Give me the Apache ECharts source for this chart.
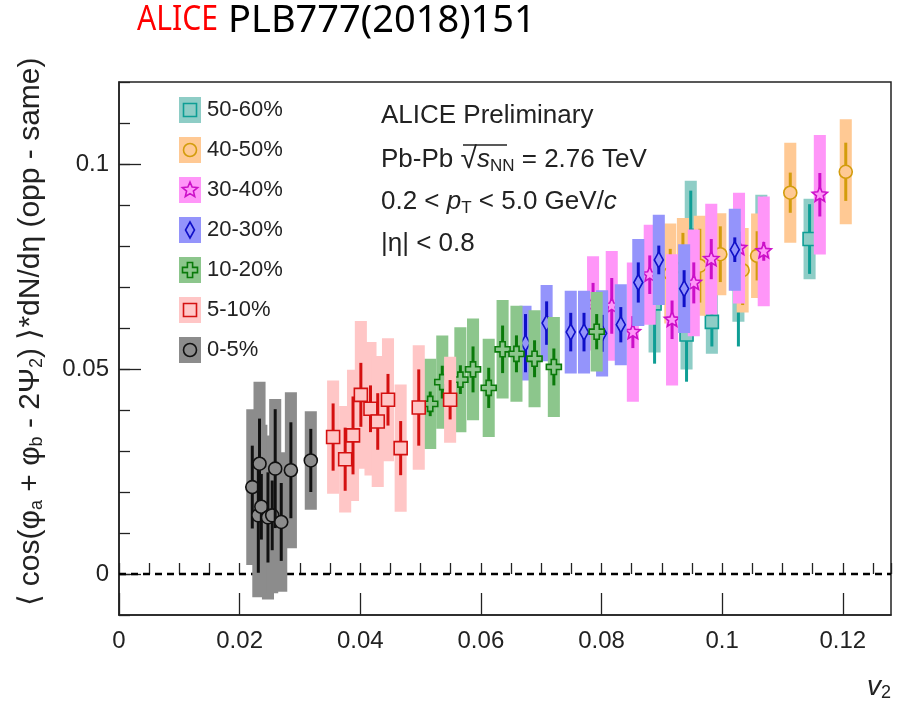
<!DOCTYPE html>
<html>
<head>
<meta charset="utf-8">
<script src="https://cdn.jsdelivr.net/npm/echarts@6/dist/echarts.min.js"></script>
<style>
html,body{margin:0;padding:0;background:#fff;}
#chart{width:905px;height:702px;}
</style>
</head>
<body>
<div id="chart"></div>
<script>
// ---- data: [v2, value, stat error, syst error] per centrality class ----
const c5060_x = [0.0888, 0.0948, 0.0941, 0.0983, 0.1027, 0.1065, 0.1145];
const c5060_y = [0.0660, 0.0825, 0.0584, 0.0615, 0.0710, 0.0800, 0.0817];
const c5060_stat = [0.0147, 0.011, 0.0115, 0.006, 0.0155, 0.012, 0.0085];
const c5060_syst = [0.012, 0.0134, 0.0085, 0.0078, 0.0095, 0.0125, 0.0098];

const c4050_x = [0.0914, 0.0935, 0.0963, 0.0997, 0.1034, 0.1058, 0.1113, 0.1205];
const c4050_y = [0.0733, 0.0747, 0.0752, 0.0780, 0.0741, 0.0776, 0.0930, 0.0981];
const c4050_stat = [0.006, 0.0085, 0.009, 0.0068, 0.0085, 0.006, 0.0049, 0.0071];
const c4050_syst = [0.0122, 0.0121, 0.0122, 0.010, 0.0103, 0.0103, 0.0122, 0.0128];

const c3040_x = [0.0786, 0.0817, 0.0852, 0.0880, 0.0917, 0.0953, 0.0982, 0.1028, 0.1069, 0.1162];
const c3040_y = [0.0660, 0.0654, 0.0590, 0.0730, 0.0620, 0.0710, 0.0768, 0.0795, 0.0787, 0.0925];
const c3040_stat = [0.005, 0.0068, 0.0039, 0.0047, 0.0047, 0.005, 0.0049, 0.004, 0.0023, 0.0053];
const c3040_syst = [0.0115, 0.0134, 0.017, 0.0122, 0.016, 0.013, 0.0135, 0.0135, 0.0134, 0.0146];

const c2030_x = [0.0674, 0.0709, 0.0749, 0.0771, 0.0801, 0.0832, 0.0861, 0.0895, 0.0937, 0.1021];
const c2030_y = [0.0563, 0.0612, 0.0590, 0.0590, 0.0587, 0.0608, 0.0711, 0.0766, 0.0696, 0.0791];
const c2030_stat = [0.0071, 0.0053, 0.0047, 0.0047, 0.0045, 0.0043, 0.0049, 0.0035, 0.0045, 0.003];
const c2030_syst = [0.0091, 0.0093, 0.0101, 0.0101, 0.0105, 0.0099, 0.0106, 0.011, 0.0108, 0.010];

const c1020_x = [0.0516, 0.0536, 0.0566, 0.0587, 0.0613, 0.0636, 0.0659, 0.0689, 0.0721, 0.0792];
const c1020_y = [0.0415, 0.0468, 0.0474, 0.0499, 0.0454, 0.0548, 0.0537, 0.0525, 0.0505, 0.0591];
const c1020_stat = [0.003, 0.004, 0.0035, 0.0056, 0.0049, 0.0058, 0.0045, 0.0045, 0.0045, 0.0043];
const c1020_syst = [0.011, 0.0114, 0.0128, 0.0124, 0.012, 0.012, 0.0117, 0.0118, 0.0122, 0.0097];

const c0510_x = [0.0355, 0.0375, 0.0388, 0.0401, 0.0417, 0.0429, 0.0446, 0.0467, 0.0497, 0.0549];
const c0510_y = [0.0334, 0.0280, 0.0338, 0.0437, 0.0403, 0.0372, 0.0425, 0.0307, 0.0406, 0.0425];
const c0510_stat = [0.0082, 0.0077, 0.0095, 0.0078, 0.0057, 0.0069, 0.0063, 0.0066, 0.0093, 0.0048];
const c0510_syst = [0.0138, 0.013, 0.016, 0.018, 0.0163, 0.016, 0.015, 0.0155, 0.0152, 0.0105];

const c0005_x = [0.0221, 0.0231, 0.0233, 0.0236, 0.0247, 0.0254, 0.0259, 0.0269, 0.0285, 0.0318];
const c0005_y = [0.0212, 0.0143, 0.0269, 0.0164, 0.0138, 0.0143, 0.0257, 0.0127, 0.0253, 0.0277];
const c0005_stat = [0.0101, 0.014, 0.011, 0.008, 0.011, 0.0085, 0.0145, 0.0095, 0.0117, 0.0077];
const c0005_syst = [0.019, 0.02, 0.02, 0.02, 0.02, 0.019, 0.017, 0.017, 0.019, 0.012];

const legendLabels = ['50-60%', '40-50%', '30-40%', '20-30%', '10-20%', '5-10%', '0-5%'];
const xTickValues = [0, 0.02, 0.04, 0.06, 0.08, 0.1, 0.12];
const yLabelValues = [0, 0.05, 0.1];

// ---- styles ----
const FONT = '"Liberation Sans", Arial, Helvetica, sans-serif';
const BOXHALF = 0.001;
const classes = [
  {name: legendLabels[0], x: c5060_x, y: c5060_y, stat: c5060_stat, syst: c5060_syst, box: '#8ecdc6', line: '#0e9e95', mk: 'square'},
  {name: legendLabels[1], x: c4050_x, y: c4050_y, stat: c4050_stat, syst: c4050_syst, box: '#ffc994', line: '#d39c0c', mk: 'circle'},
  {name: legendLabels[2], x: c3040_x, y: c3040_y, stat: c3040_stat, syst: c3040_syst, box: '#ff96f8', line: '#cc10c8', mk: 'star'},
  {name: legendLabels[3], x: c2030_x, y: c2030_y, stat: c2030_stat, syst: c2030_syst, box: '#9494fb', line: '#1010c8', mk: 'diamond'},
  {name: legendLabels[4], x: c1020_x, y: c1020_y, stat: c1020_stat, syst: c1020_syst, box: '#8cc68c', line: '#0a7a0a', mk: 'cross'},
  {name: legendLabels[5], x: c0510_x, y: c0510_y, stat: c0510_stat, syst: c0510_syst, box: '#ffc6c6', line: '#d41010', mk: 'square'},
  {name: legendLabels[6], x: c0005_x, y: c0005_y, stat: c0005_stat, syst: c0005_syst, box: '#8c8c8c', line: '#111111', mk: 'circle'}
];

function markerEl(kind, cx, cy, fill, stroke) {
  const style = {fill: fill, stroke: stroke, lineWidth: 1.6};
  if (kind === 'circle') return {type: 'circle', shape: {cx: cx, cy: cy, r: 6.5}, style: style};
  if (kind === 'square') return {type: 'rect', shape: {x: cx - 6.5, y: cy - 6.5, width: 13, height: 13}, style: style};
  if (kind === 'diamond') return {type: 'polygon', shape: {points: [[cx, cy - 8], [cx + 4.5, cy], [cx, cy + 8], [cx - 4.5, cy]]}, style: style};
  if (kind === 'star') {
    const pts = [];
    for (let i = 0; i < 10; i++) {
      const r = (i % 2 === 0) ? 8 : 3.6;
      const a = -Math.PI / 2 + i * Math.PI / 5;
      pts.push([cx + r * Math.cos(a), cy + r * Math.sin(a)]);
    }
    return {type: 'polygon', shape: {points: pts}, style: style};
  }
  // open cross
  const a = 7.5, w = 2.6;
  return {type: 'polygon', shape: {points: [
    [cx - w, cy - a], [cx + w, cy - a], [cx + w, cy - w], [cx + a, cy - w], [cx + a, cy + w], [cx + w, cy + w],
    [cx + w, cy + a], [cx - w, cy + a], [cx - w, cy + w], [cx - a, cy + w], [cx - a, cy - w], [cx - w, cy - w]
  ]}, style: style};
}

const series = [];
classes.forEach(function (g, gi) {
  const data = g.x.map(function (v, i) { return [v, g.y[i], g.stat[i], g.syst[i]]; });
  const boxSeries = {
    type: 'custom', name: g.name + ' syst', z: 3 + gi * 2, data: data,
    encode: {x: 0, y: 1},
    renderItem: function (params, api) {
      const x = api.value(0), y = api.value(1), s = api.value(3);
      const a = api.coord([x - BOXHALF, y + s]);
      const b = api.coord([x + BOXHALF, y - s]);
      return {type: 'rect', shape: {x: a[0], y: a[1], width: b[0] - a[0], height: b[1] - a[1]}, style: {fill: g.box}};
    }
  };
  if (gi === 0) {
    boxSeries.markLine = {
      silent: true, symbol: 'none', label: {show: false}, z: 1,
      lineStyle: {type: [7, 5], color: '#000', width: 2.4},
      data: [{yAxis: 0}]
    };
  }
  series.push(boxSeries);
  series.push({
    type: 'custom', name: g.name, z: 4 + gi * 2, data: data,
    encode: {x: 0, y: 1},
    renderItem: function (params, api) {
      const x = api.value(0), y = api.value(1), e = api.value(2);
      const t = api.coord([x, y + e]), b = api.coord([x, y - e]), c = api.coord([x, y]);
      return {type: 'group', children: [
        {type: 'line', shape: {x1: t[0], y1: t[1], x2: b[0], y2: b[1]}, style: {stroke: g.line, lineWidth: 3}},
        markerEl(g.mk, c[0], c[1], g.box, g.line)
      ]};
    }
  });
});

// ---- graphic: title, legend, annotations, axis titles ----
const graphic = [];
graphic.push({type: 'text', x: 137, y: 3, scaleX: 0.86, style: {text: 'ALICE', fill: '#ff0000', font: '35px "Noto Sans", "Open Sans", sans-serif', textVerticalAlign: 'top'}});
graphic.push({type: 'text', left: 228, top: 2, style: {text: 'PLB777(2018)151', fill: '#000', font: '38px "Noto Sans", "Open Sans", sans-serif'}});

classes.forEach(function (g, i) {
  const cx = 190, cy = 110 + i * 40;
  graphic.push({type: 'rect', shape: {x: cx - 11, y: cy - 13, width: 22, height: 26}, style: {fill: g.box}, z: 50});
  const m = markerEl(g.mk, cx, cy, g.box, g.line);
  m.z = 51;
  graphic.push(m);
  graphic.push({type: 'text', x: 207, y: cy, z: 51, style: {text: g.name, fill: '#222', font: '22px ' + FONT, textVerticalAlign: 'middle'}});
});

const annFont = '26px ' + FONT;
graphic.push({type: 'text', x: 381, y: 116, z: 51, style: {text: 'ALICE Preliminary', fill: '#222', font: annFont, textVerticalAlign: 'middle'}});
graphic.push({type: 'text', x: 381, y: 160, z: 51, style: {
  text: '{n|Pb-Pb }{sq|√}{it|s}{sub|NN}{n| = 2.76 TeV}', fill: '#222', font: annFont, textVerticalAlign: 'middle',
  rich: {
    n: {font: annFont, fill: '#222'},
    sq: {font: '30px ' + FONT, fill: '#222'},
    it: {font: 'italic 26px ' + FONT, fill: '#222'},
    sub: {font: '17px ' + FONT, fill: '#222', verticalAlign: 'bottom', padding: [10, 0, 0, 0]}
  }}});
graphic.push({type: 'line', z: 51, shape: {x1: 463, y1: 145, x2: 507, y2: 145}, style: {stroke: '#222', lineWidth: 1.5}});
graphic.push({type: 'text', x: 381, y: 202, z: 51, style: {
  text: '0.2 < {it|p}{sub|T} < 5.0 GeV/{it|c}', fill: '#222', font: annFont, textVerticalAlign: 'middle',
  rich: {
    it: {font: 'italic 26px ' + FONT, fill: '#222'},
    sub: {font: '17px ' + FONT, fill: '#222', verticalAlign: 'bottom', padding: [12, 0, 0, 0]}
  }}});
graphic.push({type: 'text', x: 381, y: 244, z: 51, style: {text: '|η| < 0.8', fill: '#222', font: annFont, textVerticalAlign: 'middle'}});

// y axis title (rotated, reads bottom to top)
graphic.push({type: 'text', x: 31, y: 332, rotation: Math.PI / 2, z: 51, style: {
  text: '⟨ cos(φ{sub|a} + φ{sub|b} - 2Ψ{sub|2}) ⟩*dN/dη (opp - same)',
  fill: '#222', font: '30px ' + FONT, textAlign: 'center', textVerticalAlign: 'middle',
  rich: {sub: {font: '18px ' + FONT, fill: '#222', verticalAlign: 'bottom', padding: [13, 0, 0, 0]}}
}});
// x axis title
graphic.push({type: 'text', x: 867, y: 687, z: 51, style: {
  text: '{it|v}{sub|2}', fill: '#222', textVerticalAlign: 'middle',
  rich: {it: {font: 'italic 28px ' + FONT, fill: '#222'}, sub: {font: '18px ' + FONT, fill: '#222', verticalAlign: 'bottom', padding: [12, 0, 0, 0]}}
}});

const chart = echarts.init(document.getElementById('chart'), null, {renderer: 'canvas'});
chart.setOption({
  animation: false,
  backgroundColor: '#fff',
  grid: {left: 119, right: 14, top: 82, bottom: 87, show: true, borderColor: '#222', borderWidth: 1.5, backgroundColor: 'transparent'},
  xAxis: [{
    type: 'value', min: 0, max: 0.128, interval: 0.02,
    axisLine: {show: true, onZero: false, lineStyle: {color: '#222', width: 1.5}},
    axisTick: {show: true, inside: true, length: 22, customValues: xTickValues, lineStyle: {color: '#222', width: 1.3}},
    axisLabel: {customValues: xTickValues, fontSize: 24, color: '#222', fontFamily: FONT, margin: 14,
      formatter: function (v) { return String(+v.toFixed(3)); }},
    splitLine: {show: false}
  }, {
    type: 'value', min: 0, max: 0.128, interval: 0.005, position: 'bottom', offset: 0,
    axisLine: {show: false}, axisLabel: {show: false}, splitLine: {show: false},
    axisTick: {show: true, inside: true, length: 11, lineStyle: {color: '#222', width: 1.3}}
  }],
  yAxis: [{
    type: 'value', min: -0.01, max: 0.12, interval: 0.01,
    axisLine: {show: true, onZero: false, lineStyle: {color: '#222', width: 1.5}},
    axisTick: {show: true, inside: true, length: 11, lineStyle: {color: '#222', width: 1.3}},
    axisLabel: {customValues: yLabelValues, fontSize: 24, color: '#222', fontFamily: FONT, margin: 10,
      formatter: function (v) { return String(+v.toFixed(3)); }},
    splitLine: {show: false}
  }, {
    type: 'value', min: -0.01, max: 0.12, position: 'left', offset: 0,
    axisLine: {show: false}, axisLabel: {show: false}, splitLine: {show: false},
    axisTick: {show: true, inside: true, length: 22, customValues: yLabelValues, lineStyle: {color: '#222', width: 1.3}}
  }],
  series: series,
  graphic: graphic
});
</script>
</body>
</html>
